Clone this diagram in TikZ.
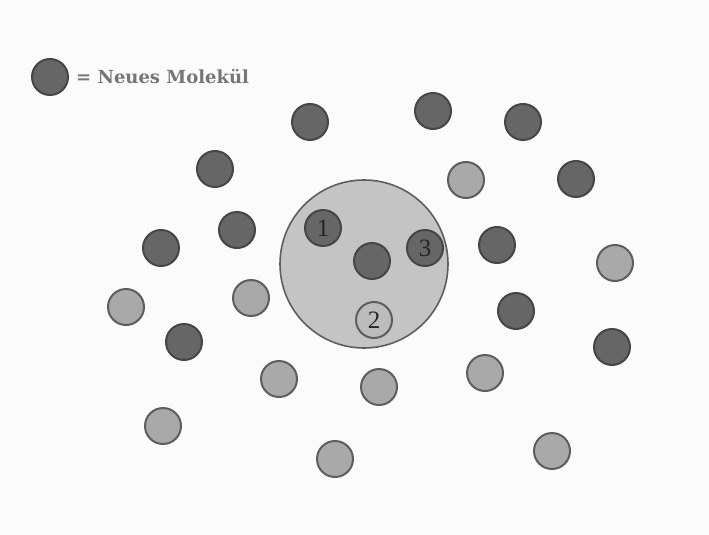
\documentclass[tikz,border=0pt]{standalone}
\usepackage{fontspec}
\newfontfamily\slab{DejaVu Serif}
\setmainfont{Liberation Serif}
\definecolor{bg}{HTML}{FBFBFB}
\definecolor{darkfill}{HTML}{666666}
\definecolor{darkline}{HTML}{464646}
\definecolor{lightfill}{HTML}{A9A9A9}
\definecolor{lightline}{HTML}{5E5E5E}
\definecolor{bigfill}{HTML}{C4C4C4}
\definecolor{txtgray}{HTML}{767676}
\begin{document}
\begin{tikzpicture}[x=1pt,y=-1pt,
  dk/.style={circle,draw=darkline,fill=darkfill,line width=2pt,minimum size=36pt,inner sep=0pt},
  lt/.style={circle,draw=lightline,fill=lightfill,line width=2pt,minimum size=36pt,inner sep=0pt},
  num/.style={font=\fontsize{25}{25}\selectfont,text=black!85}]
\fill[bg] (0,0) rectangle (709,535);
\useasboundingbox (0,0) rectangle (709,535);
% legend
\node[dk] (leg) at (50,77) {};
\node[anchor=west,text=txtgray,inner sep=0pt,font=\slab\bfseries\fontsize{18}{18}\selectfont] (legtxt) at (76,77) {= Neues Molekül};
% big circle
\node[circle,draw=lightline,fill=bigfill,line width=1.6pt,minimum size=168pt,inner sep=0pt] (big) at (364,264) {};
% inside
\node[dk,num] (m1) at (323,228) {1};
\node[dk] (mc) at (372,261) {};
\node[dk,num] (m3) at (425,248) {3};
\node[lt,num,fill=bigfill!70!lightfill] (m2) at (374,320) {2};
% dark
\node[dk] (d1) at (310,122) {};
\node[dk] (d2) at (433,111) {};
\node[dk] (d3) at (523,122) {};
\node[dk] (d4) at (215,169) {};
\node[dk] (d5) at (576,179) {};
\node[dk] (d6) at (237,230) {};
\node[dk] (d7) at (161,248) {};
\node[dk] (d8) at (497,245) {};
\node[dk] (d9) at (184,342) {};
\node[dk] (d10) at (516,311) {};
\node[dk] (d11) at (612,347) {};
% light
\node[lt] (l1) at (466,180) {};
\node[lt] (l2) at (615,263) {};
\node[lt] (l3) at (126,307) {};
\node[lt] (l4) at (251,298) {};
\node[lt] (l5) at (279,379) {};
\node[lt] (l6) at (379,387) {};
\node[lt] (l7) at (485,373) {};
\node[lt] (l8) at (163,426) {};
\node[lt] (l9) at (335,459) {};
\node[lt] (l10) at (552,451) {};
\end{tikzpicture}
\end{document}
